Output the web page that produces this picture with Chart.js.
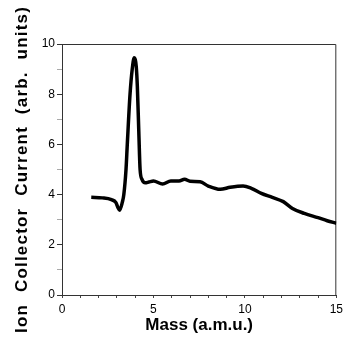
<!DOCTYPE html>
<html>
<head>
<meta charset="utf-8">
<script src="https://cdn.jsdelivr.net/npm/chart.js@4"></script>
<style>
  html, body { margin: 0; padding: 0; background: #fff; }
  #wrap { width: 347px; height: 342px; }
</style>
</head>
<body>
<div id="wrap"><canvas id="myChart"></canvas></div>
<script>
// values
var mass = [1.6, 2.2, 2.7, 2.95, 3.05, 3.15, 3.3, 3.38, 3.5, 3.57, 3.72, 3.84, 3.95, 4.06, 4.12, 4.2, 4.27, 4.38, 4.55,
            4.75, 5.0, 5.5, 5.95, 6.4, 6.7, 7.0, 7.55, 8.0, 8.65, 9.2, 9.9, 10.35, 10.9, 11.5, 12.1, 12.6, 13.25, 14.0, 14.5, 15.0];
var current = [3.89, 3.87, 3.8, 3.68, 3.5, 3.38, 3.7, 4.0, 5.0, 6.0, 8.0, 9.0, 9.45, 9.1, 8.3, 6.5, 5.0, 4.6, 4.47,
               4.5, 4.54, 4.42, 4.54, 4.54, 4.61, 4.53, 4.51, 4.34, 4.21, 4.29, 4.34, 4.25, 4.05, 3.89, 3.72, 3.45, 3.25, 3.08, 2.96, 2.86];
var xTickLabels = [0, 5, 10, 15];
var yTickLabels = [0, 2, 4, 6, 8, 10];

var points = mass.map(function (m, i) { return { x: m, y: current[i] }; });

// box around the plot, and a spaced-out y title like the scan
var framePlugin = {
    id: 'frame',
    afterUpdate: function (chart) {
        var s = chart.scales.y;
        if (s && !s._spaced) {
            var orig = s.drawTitle;
            s.drawTitle = function () {
                this.ctx.save();
                this.ctx.letterSpacing = '1.2px';
                orig.apply(this, arguments);
                this.ctx.restore();
            };
            s._spaced = true;
        }
    },
    beforeDatasetsDraw: function (chart) {
        var a = chart.chartArea, ctx = chart.ctx;
        ctx.save();
        ctx.strokeStyle = '#333';
        ctx.lineWidth = 1;
        ctx.beginPath();
        ctx.moveTo(a.left, a.top + 0.5);
        ctx.lineTo(a.right - 0.5, a.top + 0.5);
        ctx.lineTo(a.right - 0.5, a.bottom);
        ctx.stroke();
        ctx.restore();
    }
};

var ctx = document.getElementById('myChart').getContext('2d');
var chart = new Chart(ctx, {
    type: 'scatter',
    data: {
        datasets: [{
            data: points,
            showLine: true,
            borderColor: '#000',
            borderWidth: 3.5,
            pointRadius: 0,
            cubicInterpolationMode: 'monotone'
        }]
    },
    options: {
        responsive: true,
        maintainAspectRatio: false,
        animation: false,
        layout: { padding: { left: 0, right: 8, top: 44, bottom: 0 } },
        plugins: { legend: { display: false }, tooltip: { enabled: false } },
        scales: {
            x: {
                type: 'linear',
                min: 0, max: 15,
                afterFit: function (s) { s.height = 47; },
                border: { display: true, color: '#333', width: 1 },
                grid: { drawOnChartArea: false, tickLength: 3, color: '#444' },
                ticks: {
                    stepSize: 1,
                    padding: 4,
                    maxRotation: 0,
                    autoSkip: false,
                    color: '#000',
                    font: { family: 'Liberation Sans, Arial', size: 12 },
                    callback: function (v) { return xTickLabels.indexOf(v) >= 0 ? v : ''; }
                },
                title: {
                    display: true,
                    text: 'Mass (a.m.u.)',
                    color: '#000',
                    padding: { top: 0, bottom: 6 },
                    font: { family: 'Liberation Sans, Arial', size: 17, weight: 'bold' }
                }
            },
            y: {
                min: 0, max: 10,
                afterFit: function (s) { s.width = 62; },
                border: { display: true, color: '#333', width: 1 },
                grid: {
                    drawOnChartArea: false,
                    tickLength: 5,
                    tickColor: function (c) { return c.tick && c.tick.value % 2 === 0 ? '#333' : '#aaa'; }
                },
                ticks: {
                    stepSize: 1,
                    padding: 2,
                    color: '#000',
                    font: { family: 'Liberation Sans, Arial', size: 12 },
                    callback: function (v) { return yTickLabels.indexOf(v) >= 0 ? v : ''; }
                },
                title: {
                    display: true,
                    text: 'Ion  Collector  Current  (arb.  units)',
                    color: '#000',
                    padding: { top: 12, bottom: 0 },
                    font: { family: 'Liberation Sans, Arial', size: 17, weight: 'bold' }
                }
            }
        }
    },
    plugins: [framePlugin]
});
</script>
</body>
</html>
